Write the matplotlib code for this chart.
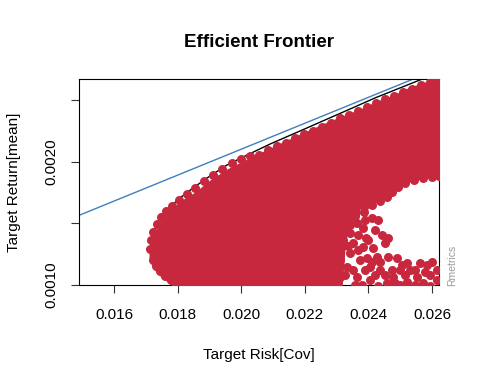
import matplotlib
matplotlib.use("Agg")
import matplotlib.pyplot as plt

plt.rcParams["font.family"] = ["Liberation Sans", "DejaVu Sans"]

# efficient frontier (upper envelope of the feasible set)
frontier_risk = [0.017123, 0.017186, 0.017312, 0.017501, 0.017753, 0.018067, 0.018477,
                 0.019011, 0.019546, 0.020050, 0.020900, 0.021844, 0.022630, 0.023417,
                 0.024204, 0.024990, 0.025620, 0.026249]
frontier_return = [0.001284, 0.001381, 0.001470, 0.001551, 0.001633, 0.001706, 0.001787,
                   0.001884, 0.001973, 0.002038, 0.002143, 0.002249, 0.002338, 0.002427,
                   0.002517, 0.002598, 0.002663, 0.002727]

# tangency line (risk free rate 0)
tangent_risk = [0.0, 0.030]
tangent_return = [0.0, 0.003153]

# dense body of the monte carlo portfolios
cloud_risk = [0.017092, 0.017186, 0.017312, 0.017438, 0.017595, 0.017753, 0.017973,
              0.018225, 0.018539, 0.019011, 0.019546, 0.020050, 0.020900, 0.021844,
              0.022630, 0.023165, 0.023260, 0.023417, 0.023732, 0.024204, 0.024518,
              0.024770, 0.025305, 0.025777, 0.026249]
cloud_top = [0.001284, 0.001357, 0.001446, 0.001503, 0.001560, 0.001600, 0.001657,
             0.001706, 0.001754, 0.001852, 0.001941, 0.002006, 0.002111, 0.002225,
             0.002314, 0.002371, 0.002379, 0.002395, 0.002427, 0.002484, 0.002517,
             0.002541, 0.002606, 0.002646, 0.002703]
cloud_bottom = [0.001219, 0.001154, 0.001105, 0.001073, 0.001041, 0.001008, 0.000959,
                0.000959, 0.000959, 0.000959, 0.000959, 0.000959, 0.000959, 0.000959,
                0.000959, 0.000959, 0.001284, 0.001568, 0.001616, 0.001665, 0.001706,
                0.001770, 0.001835, 0.001868, 0.001884]

# single portfolios along the edges of the cloud
edge_risk = [0.017123, 0.017155, 0.017218, 0.017344, 0.017470, 0.017627, 0.017816,
             0.018036, 0.018288, 0.018539, 0.018823, 0.019106, 0.019389, 0.019704,
             0.019987, 0.020270, 0.020554, 0.020837, 0.021120, 0.021403, 0.021686,
             0.021970, 0.022253, 0.022536, 0.022819, 0.023103, 0.023386, 0.023669,
             0.023952, 0.024235, 0.024518, 0.024802, 0.025085, 0.025368, 0.025651,
             0.025934, 0.026186,
             0.017218, 0.017312, 0.017438, 0.017595, 0.017784, 0.017973]
edge_return = [0.001292, 0.001365, 0.001429, 0.001494, 0.001551, 0.001600, 0.001640,
               0.001689, 0.001738, 0.001786, 0.001843, 0.001892, 0.001940, 0.001989,
               0.002021, 0.002046, 0.002054, 0.002095, 0.002127, 0.002152, 0.002192,
               0.002225, 0.002249, 0.002281, 0.002314, 0.002354, 0.002379, 0.002411,
               0.002444, 0.002476, 0.002509, 0.002533, 0.002565, 0.002590, 0.002622,
               0.002646, 0.002663,
               0.001203, 0.001154, 0.001114, 0.001073, 0.001041, 0.001016]

# scattered portfolios in the lower right
sparse_risk = [0.023260, 0.023323, 0.023417, 0.023606, 0.023858, 0.024109, 0.024361,
               0.024581, 0.024739, 0.024927, 0.025148, 0.025431, 0.025714, 0.025997,
               0.026218,
               0.023858, 0.024109, 0.024298, 0.023638, 0.023826, 0.023417, 0.024424,
               0.024613, 0.024518, 0.023984, 0.023826, 0.024267, 0.024613, 0.024896,
               0.025211, 0.025620, 0.025840, 0.025305, 0.024990, 0.025934, 0.026155,
               0.025526, 0.024770, 0.024361, 0.024046, 0.023732, 0.023417, 0.023197,
               0.023008, 0.023103, 0.022882, 0.023323, 0.023103, 0.023638, 0.024046,
               0.024581, 0.025211, 0.025714, 0.026155, 0.022882, 0.022882, 0.023512,
               0.023669, 0.024141, 0.023952, 0.023512, 0.025053, 0.024990, 0.025463,
               0.025934, 0.023795, 0.024298, 0.024739, 0.025997, 0.024361,
               0.022976, 0.023260, 0.023575, 0.023040, 0.023354, 0.023103, 0.023260,
               0.023575, 0.023889, 0.024204, 0.024518, 0.024833, 0.024109, 0.023669,
               0.023921, 0.024204, 0.024739, 0.025148, 0.025463, 0.025777, 0.023103,
               0.023417, 0.023889]
sparse_return = [0.001324, 0.001446, 0.001543, 0.001592, 0.001633, 0.001649, 0.001681,
                 0.001714, 0.001754, 0.001795, 0.001827, 0.001852, 0.001868, 0.001876,
                 0.001884,
                 0.001592, 0.001543, 0.001527, 0.001503, 0.001462, 0.001422, 0.001406,
                 0.001381, 0.001341, 0.001365, 0.001308, 0.001227, 0.001227, 0.001219,
                 0.001178, 0.001178, 0.001162, 0.001122, 0.001122, 0.001081, 0.001122,
                 0.001065, 0.001065, 0.001122, 0.001146, 0.001203, 0.001260, 0.001365,
                 0.001446, 0.001527, 0.001503, 0.001146, 0.001065, 0.001065, 0.001041,
                 0.001016, 0.001024, 0.001016, 0.001041, 0.001146, 0.001260, 0.001341,
                 0.001406, 0.001300, 0.001219, 0.001122, 0.001162, 0.001000, 0.001000,
                 0.000992, 0.001000, 0.000992, 0.001000, 0.001187, 0.001187,
                 0.001592, 0.001592, 0.001560, 0.001381, 0.001316, 0.001203, 0.001081,
                 0.001000, 0.001122, 0.001081, 0.001081, 0.001016, 0.001187, 0.001284,
                 0.001381, 0.001446, 0.001122, 0.001081, 0.001122, 0.001105, 0.001300,
                 0.001487, 0.001527]

x_ticks = [0.016, 0.018, 0.020, 0.022, 0.024, 0.026]
x_tick_labels = ["0.016", "0.018", "0.020", "0.022", "0.024", "0.026"]
y_ticks = [0.0010, 0.0015, 0.0020, 0.0025]
y_tick_labels = ["0.0010", "", "0.0020", ""]

dot_color = "#C8283E"

fig = plt.figure(figsize=(4.8, 3.84), dpi=100)
ax = fig.add_axes([0.1646, 0.2578, 0.7506, 0.5365])

ax.plot(frontier_risk, frontier_return, color="black", linewidth=1.0, zorder=1)
ax.plot(tangent_risk, tangent_return, color="#3F7FBF", linewidth=1.0, zorder=2)
ax.fill_between(cloud_risk, cloud_bottom, cloud_top, color=dot_color, linewidth=0, zorder=3)
ax.scatter(edge_risk, edge_return, s=6.5 ** 2, color=dot_color, linewidths=0, zorder=4)
ax.scatter(sparse_risk, sparse_return, s=6.5 ** 2, color=dot_color, linewidths=0, zorder=4)

ax.set_xlim(0.014889, 0.02623)
ax.set_ylim(0.0010, 0.002671)
ax.set_xticks(x_ticks)
ax.set_xticklabels(x_tick_labels)
ax.set_yticks(y_ticks)
ax.set_yticklabels(y_tick_labels, rotation=90, va="center")
ax.tick_params(axis="both", length=5.5, width=0.8, labelsize=11, color="#333333")
ax.tick_params(axis="x", pad=11)
ax.tick_params(axis="y", pad=9)
for spine in ax.spines.values():
    spine.set_linewidth(0.8)

ax.set_xlabel("Target Risk[Cov]", fontsize=11, labelpad=19)
ax.set_ylabel("Target Return[mean]", fontsize=11, labelpad=17)

fig.text(0.54, 0.89, "Efficient Frontier", ha="center", va="center",
         fontsize=13.5, fontweight="bold")
fig.text(0.942, 0.31, "Rmetrics", rotation=90, ha="center", va="center",
         fontsize=7.5, color="#999999")

fig.savefig("out.png", dpi=100)
